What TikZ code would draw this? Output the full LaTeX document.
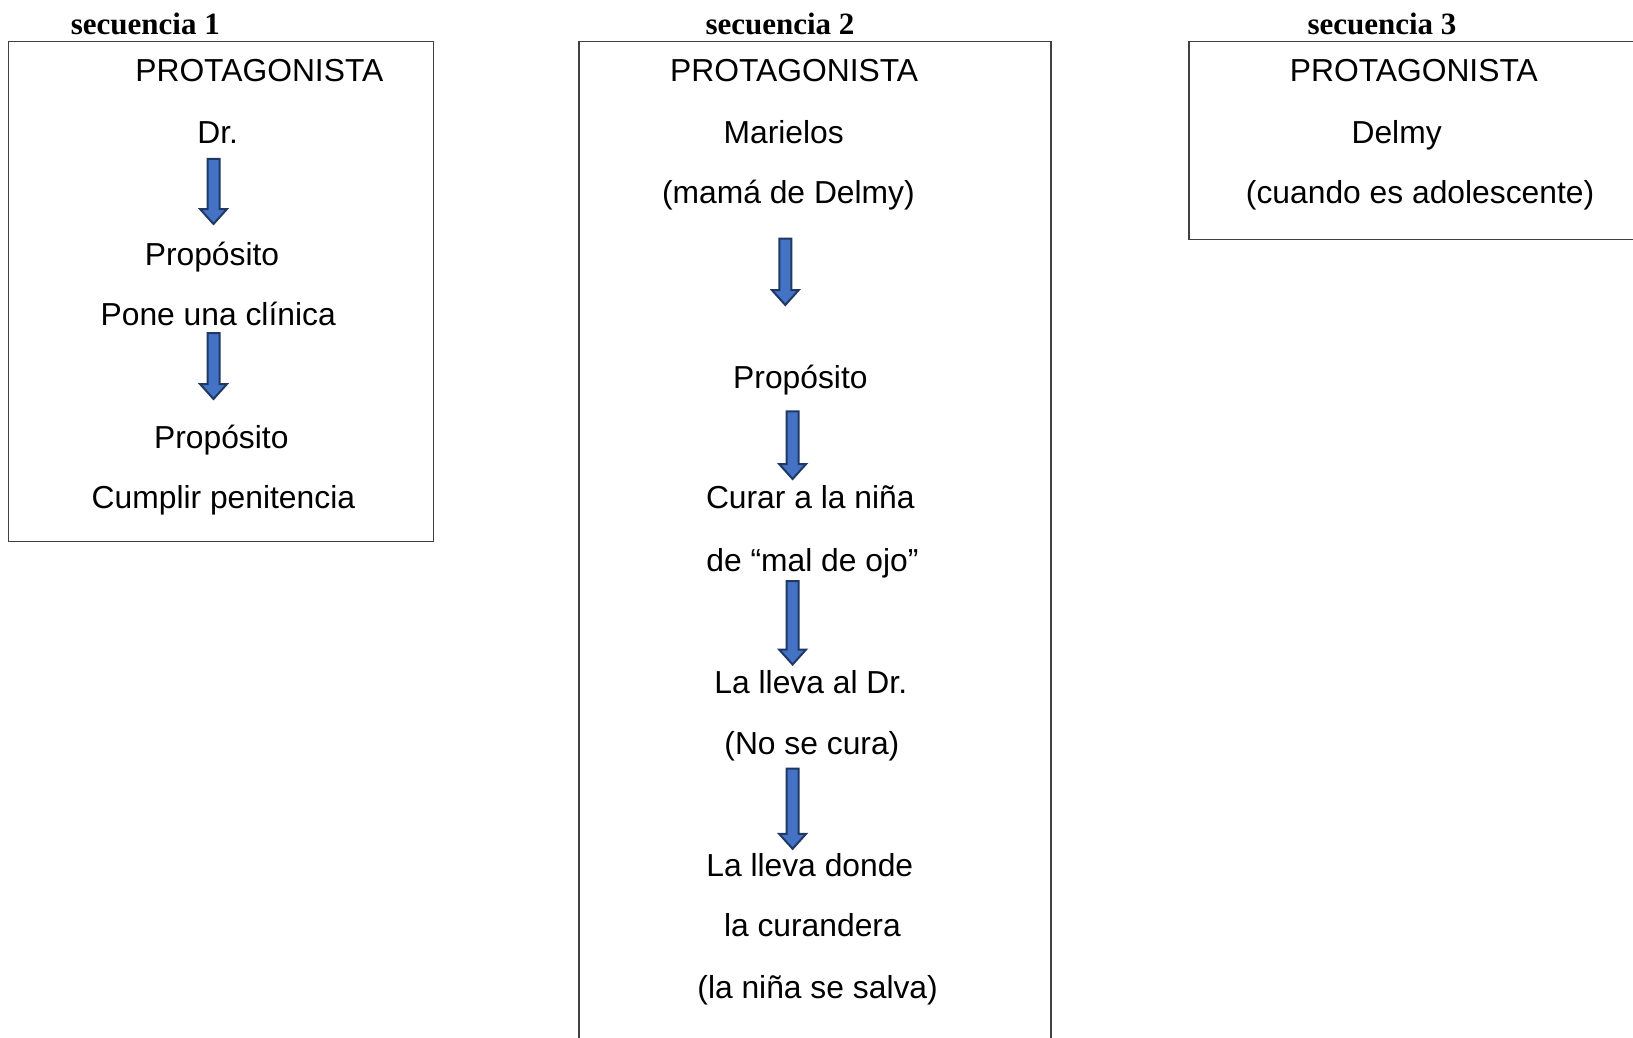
\documentclass[tikz,border=0pt]{standalone}
\usepackage{fontspec}
\setmainfont{Liberation Sans}
\newfontfamily\titlefont{Liberation Serif}
\usetikzlibrary{calc}
\definecolor{arrowfill}{HTML}{4472C4}
\definecolor{arrowline}{HTML}{203864}
\definecolor{boxline}{HTML}{404040}
\tikzset{
  txt/.style={anchor=base,inner sep=0pt,font=\fontsize{31.8}{37}\selectfont},
  ttl/.style={anchor=base,inner sep=0pt,font=\titlefont\bfseries\fontsize{31}{37}\selectfont},
  seqbox/.style={draw=boxline,line width=1.3pt},
  arrowbody/.style={fill=arrowfill,draw=arrowline,line width=2pt,line join=miter}
}
% block arrow from top (#1) down to tip (#2)
\newcommand{\bluearrow}[2]{%
  \draw[arrowbody] ($(#1)+(-6,0)$) -- ($(#1)+(6,0)$) -- ($(#2)+(6,-15)$)
    -- ($(#2)+(13.5,-15)$) -- (#2) -- ($(#2)+(-13.5,-15)$) -- ($(#2)+(-6,-15)$) -- cycle;}
\begin{document}
\begin{tikzpicture}[x=1pt,y=-1pt]
  \useasboundingbox (0,0) rectangle (1633,1038);
  % titles
  \node[ttl] (t1) at (145.3,35) {secuencia 1};
  \node[ttl] (t2) at (780,35) {secuencia 2};
  \node[ttl] (t3) at (1382,35) {secuencia 3};
  % boxes
  \draw[seqbox] (8.3,41.7) rectangle (433.3,541.6);
  \draw[seqbox] (579,41.7) rectangle (1051,1050);
  \draw[seqbox] (1189,41.7) rectangle (1645,239.5);

  % secuencia 1
  \node[txt] (prot1) at (259.3,82) {PROTAGONISTA};
  \node[txt] (dr) at (217.7,143) {Dr.};
  \node[txt] (prop1) at (212,265) {Propósito};
  \node[txt] (clinica) at (218.2,325.5) {Pone una clínica};
  \node[txt] (prop2) at (221.3,448.4) {Propósito};
  \node[txt] (penit) at (223.4,508.8) {Cumplir penitencia};
  \coordinate (a1s) at (213.5,159);
  \coordinate (a1e) at (213.5,224);
  \coordinate (a2s) at (213.5,333);
  \coordinate (a2e) at (213.5,399);
  \bluearrow{a1s}{a1e}
  \bluearrow{a2s}{a2e}

  % secuencia 2
  \node[txt] (prot2) at (794.1,82) {PROTAGONISTA};
  \node[txt] (mari) at (783.7,143) {Marielos};
  \node[txt] (mama) at (788.4,203.7) {(mamá de Delmy)};
  \node[txt] (prop3) at (800.4,388) {Propósito};
  \node[txt] (curar) at (810.3,508.8) {Curar a la niña};
  \node[txt] (ojo) at (812.4,571.3) {de “mal de ojo”};
  \node[txt] (lleva) at (810.8,693.2) {La lleva al Dr.};
  \node[txt] (nocura) at (811.9,754.6) {(No se cura)};
  \node[txt] (donde) at (809.8,876.5) {La lleva donde};
  \node[txt] (curan) at (812.4,936.9) {la curandera};
  \node[txt] (salva) at (817.6,998.3) {(la niña se salva)};
  \coordinate (a3s) at (785.3,238.5);
  \coordinate (a3e) at (785.3,305);
  \coordinate (a4s) at (792.6,411.4);
  \coordinate (a4e) at (792.6,479);
  \coordinate (a5s) at (792.6,581);
  \coordinate (a5e) at (792.6,664.5);
  \coordinate (a6s) at (792.6,768.6);
  \coordinate (a6e) at (792.6,848.8);
  \bluearrow{a3s}{a3e}
  \bluearrow{a4s}{a4e}
  \bluearrow{a5s}{a5e}
  \bluearrow{a6s}{a6e}

  % secuencia 3
  \node[txt] (prot3) at (1413.8,82) {PROTAGONISTA};
  \node[txt] (delmy) at (1396.6,143) {Delmy};
  \node[txt] (adol) at (1420.1,203.7) {(cuando es adolescente)};
\end{tikzpicture}
\end{document}
